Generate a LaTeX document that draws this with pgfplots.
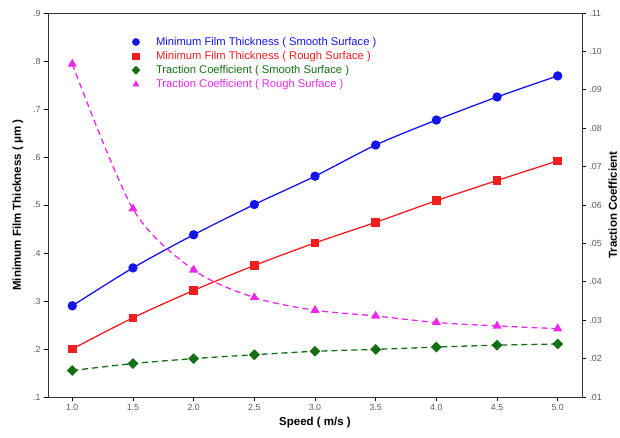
\documentclass[border=0pt]{standalone}
\usepackage{pgfplots}
\pgfplotsset{compat=1.18}
\usepackage{fontspec}
\setmainfont{Liberation Sans}
\definecolor{cblue}{RGB}{20,20,235}
\definecolor{cred}{RGB}{240,30,30}
\definecolor{cgreen}{RGB}{20,110,20}
\definecolor{cmag}{RGB}{235,40,235}
\definecolor{ctick}{RGB}{90,90,90}
\begin{document}
\begin{tikzpicture}
\pgfplotsset{
  base/.style={
    scale only axis, width=534pt, height=384pt,
    xmin=0.8, xmax=5.2,
    tick align=outside,
    major tick length=4pt,
    every tick/.style={black, line width=0.8pt},
    tick label style={font=\fontsize{8.8}{10}\selectfont, text=ctick},
    label style={font=\fontsize{11.5}{13}\selectfont\bfseries},
  }
}
\begin{axis}[base,
  ymin=0.1, ymax=0.9,
  xtick={1,1.5,2,2.5,3,3.5,4,4.5,5},
  xticklabels={1.0,1.5,2.0,2.5,3.0,3.5,4.0,4.5,5.0},
  ytick={0.1,0.2,0.3,0.4,0.5,0.6,0.7,0.8,0.9},
  yticklabels={.1,.2,.3,.4,.5,.6,.7,.8,.9},
  xtick pos=bottom, ytick pos=left,
  axis line style={line width=0.8pt, black!80},
  xlabel={Speed ( m/s )},
  ylabel={Minimum Film Thickness ( μm )},
  ylabel style={yshift=3pt},
  legend style={draw=none, fill=none, at={(0.151,0.948)}, anchor=north west,
    font=\fontsize{11.2}{12.5}\selectfont, row sep=0.5pt,
    /tikz/every odd column/.append style={column sep=14pt}},
  legend cell align=left,
]
\addlegendimage{only marks, mark=*, cblue, mark size=3.6pt}
\addlegendentry{\textcolor{cblue}{Minimum Film Thickness ( Smooth Surface )}}
\addlegendimage{only marks, mark=square*, cred, mark size=3.3pt}
\addlegendentry{\textcolor{cred}{Minimum Film Thickness ( Rough Surface )}}
\addlegendimage{only marks, mark=square*, cgreen, mark size=2.9pt, mark options={rotate=45}}
\addlegendentry{\textcolor{cgreen}{Traction Coefficient ( Smooth Surface )}}
\addlegendimage{only marks, mark=triangle*, cmag, mark size=3.6pt}
\addlegendentry{\textcolor{cmag}{Traction Coefficient ( Rough Surface )}}
\addplot[forget plot, cblue, line width=1.3pt, smooth, mark=*, mark size=4pt] coordinates {
(1.0,0.290) (1.5,0.369) (2.0,0.438) (2.5,0.501) (3.0,0.560) (3.5,0.625) (4.0,0.677) (4.5,0.725) (5.0,0.769)};
\addplot[forget plot, cred, line width=1.3pt, smooth, mark=square*, mark size=3.6pt] coordinates {
(1.0,0.200) (1.5,0.265) (2.0,0.322) (2.5,0.374) (3.0,0.421) (3.5,0.464) (4.0,0.509) (4.5,0.551) (5.0,0.592)};
\end{axis}
\begin{axis}[base,
  ymin=0.01, ymax=0.11,
  axis x line=none,
  axis y line*=right,
  ytick pos=right,
  ytick={0.01,0.02,0.03,0.04,0.05,0.06,0.07,0.08,0.09,0.10,0.11},
  yticklabels={.01,.02,.03,.04,.05,.06,.07,.08,.09,.10,.11},
  axis line style={line width=0.8pt, black!80},
  ylabel={Traction Coefficient},
]
\addplot[cgreen, line width=1.3pt, dashed, dash pattern=on 6pt off 4pt, smooth, mark=square*, mark size=3.2pt, mark options={solid, rotate=45}] coordinates {
(1.0,0.0169) (1.5,0.0187) (2.0,0.0200) (2.5,0.0210) (3.0,0.0219) (3.5,0.0224) (4.0,0.0230) (4.5,0.0235) (5.0,0.0238)};
\addplot[cmag, line width=1.3pt, dashed, dash pattern=on 6pt off 4pt, smooth, mark=triangle*, mark size=4pt, mark options={solid}] coordinates {
(1.0,0.0967) (1.5,0.0590) (2.0,0.0431) (2.5,0.0359) (3.0,0.0326) (3.5,0.0311) (4.0,0.0294) (4.5,0.0285) (5.0,0.0278)};
\end{axis}
\pgfresetboundingbox
\path (current axis.south west) ++(-48pt,-41pt) coordinate (bbsw);
\path (current axis.north east) ++(38pt,13pt) coordinate (bbne);
\useasboundingbox (bbsw) rectangle (bbne);
\end{tikzpicture}
\end{document}
